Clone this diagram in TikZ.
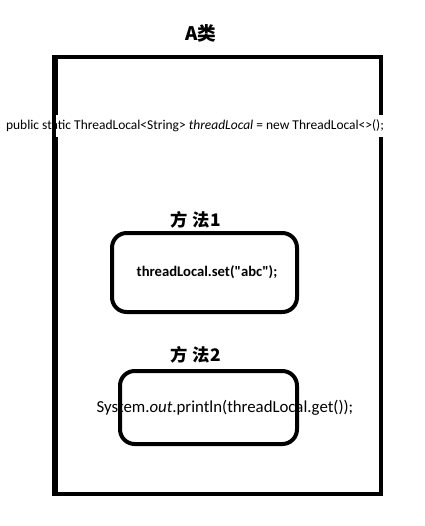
\documentclass[tikz,border=0pt]{standalone}
\usepackage{fontspec}
\setmainfont{Carlito}
\newfontfamily\codefont{Carlito}
\newfontfamily\cjk{Noto Sans CJK SC}
\usetikzlibrary{positioning}
\begin{document}
\begin{tikzpicture}[x=0.75pt, y=-0.75pt,
  cls/.style={draw, line width=3pt, minimum width=243.75pt, minimum height=327.75pt, inner sep=0pt},
  mth/.style={draw, line width=3pt, rounded corners=11pt, inner sep=0pt},
  hd/.style={font=\cjk\bfseries\fontsize{13}{15}\selectfont, anchor=center},
  code/.style={font=\codefont\fontsize{10.1}{12}\selectfont, anchor=center, inner sep=0pt}
]
\useasboundingbox (0,0) rectangle (425,526);
\node[hd, font=\cjk\bfseries\fontsize{14}{16}\selectfont] (title) at (201,33) {A类};
\node[cls] (clsA) at (218.5,275.5) {};
% text box hides the right edge, the left edge stays on top
\node[code, fill=white, minimum height=16.5pt] (field) at (195,126) {public static ThreadLocal<String> \textit{threadLocal} = new ThreadLocal<>();};
\draw[line width=3pt] (clsA.north west) -- (clsA.south west);
\foreach \i/\x/\y/\w/\h/\s/\f/\t in {
 1/204.5/272.5/138.75pt/59.25pt/207/{\codefont\bfseries\fontsize{11}{13}\selectfont}/{threadLocal.set("abc");},
 2/208.5/407.5/132.75pt/54.75pt/225/{\codefont\fontsize{12.6}{14}\selectfont}/{System.\textit{out}.println(threadLocal.get());}}
{
 \node[code, font=\f] (c\i) at (\s,\y) {\t};
 \node[mth, minimum width=\w, minimum height=\h] (m\i) at (\x,\y) {};
 \node[hd] (h\i) at (196,\y-53) {方\hspace{3pt}法\hspace{1pt}\i};
}
\end{tikzpicture}
\end{document}
